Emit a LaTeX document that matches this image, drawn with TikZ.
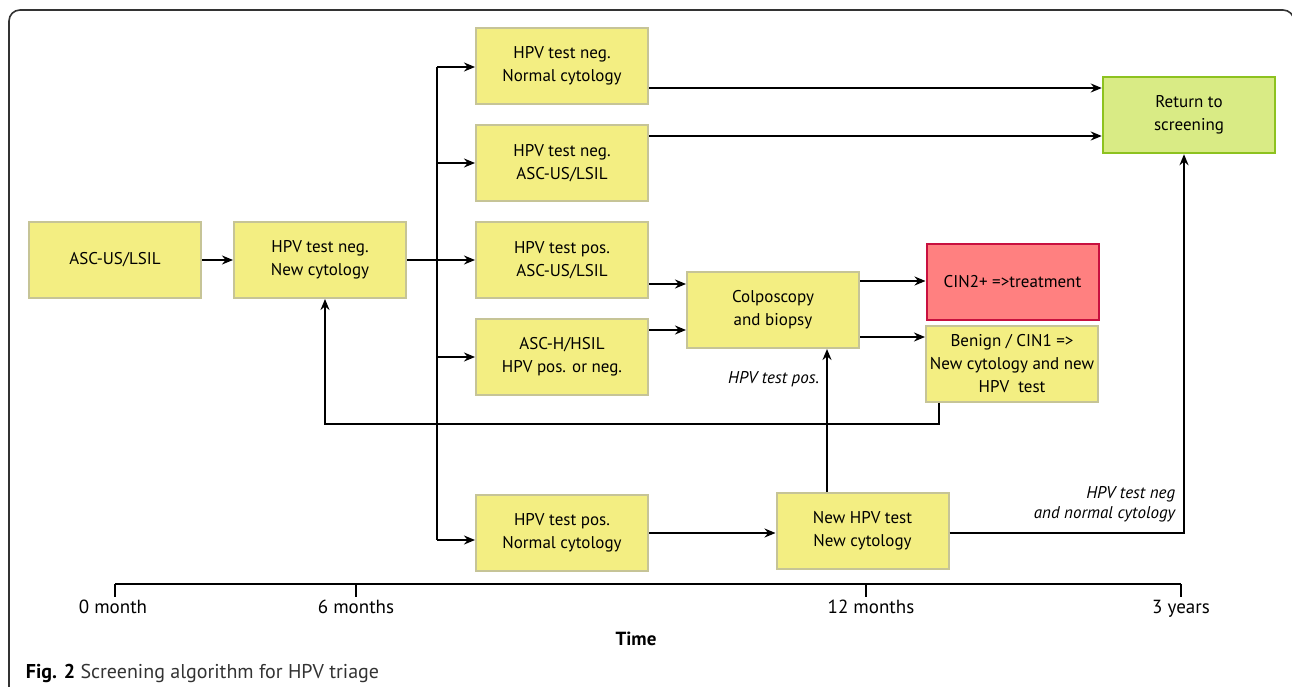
\documentclass[tikz,border=0pt]{standalone}
\usepackage{fontspec}
\setmainfont{PT Sans}
\usetikzlibrary{arrows.meta}

\definecolor{boxyellow}{HTML}{F3EE82}
\definecolor{boxedge}{HTML}{C6C497}
\definecolor{boxred}{HTML}{FF8080}
\definecolor{rededge}{HTML}{C8103F}
\definecolor{boxgreen}{HTML}{D9EB85}
\definecolor{greenedge}{HTML}{8DC21F}

\begin{document}
\begin{tikzpicture}[x=1pt,y=-1pt,line width=1.8pt,>={Stealth[length=11pt,width=9pt]}]
        \tikzstyle{box}=[draw=boxedge,fill=boxyellow,line width=2pt,minimum width=172pt,minimum height=76pt,
                         inner sep=2pt,align=center,font=\fontsize{17}{23}\selectfont]
        \tikzstyle{note}=[inner sep=0pt,align=right,font=\fontsize{17}{20}\selectfont\itshape]
        \tikzstyle{tick}=[inner sep=0pt,anchor=base,font=\fontsize{19}{22}\selectfont]
        \useasboundingbox (0,0) rectangle (1292,687);
        \draw[draw=black!80,line width=1.6pt,rounded corners=11pt] (9,720) -- (9,10) -- (1294,10) -- (1294,720);

        % boxes
        \node[box] (asc) at (115,260) {ASC-US/LSIL};
        \node[box] (neg6) at (320,260) {HPV test neg.\\New cytology};
        \node[box] (negnorm) at (562,66) {HPV test neg.\\Normal cytology};
        \node[box] (negasc) at (562,163) {HPV test neg.\\ASC-US/LSIL};
        \node[box] (posasc) at (562,260) {HPV test pos.\\ASC-US/LSIL};
        \node[box] (hsil) at (562,357) {ASC-H/HSIL\\HPV pos. or neg.};
        \node[box] (posnorm) at (562,533) {HPV test pos.\\Normal cytology};
        \node[box] (colpo) at (773,310) {Colposcopy\\and biopsy};
        \node[box,fill=boxred,draw=rededge] (cin2) at (1012.5,281.5) {CIN2+ =>treatment};
        \node[box] (benign) at (1012,363.5) {Benign / CIN1 =>\\New cytology and new\\HPV\ \ test};
        \node[box] (newtest) at (862.5,531) {New HPV test\\New cytology};
        \node[box,fill=boxgreen,draw=greenedge,line width=2.5pt] (ret) at (1189,115) {Return to\\screening};

        % connectors
        \coordinate (trunk) at (437,259);
        \draw[->] (asc) -- (neg6);
        \draw[->] (neg6) -- (posasc);
        \draw ([yshift=-1pt]trunk |- negnorm) -- ([yshift=-7pt]trunk |- posnorm);
        \draw[->] ([yshift=-1pt]trunk |- negnorm) -- ([yshift=-1pt]negnorm.west);
        \draw[->] (trunk |- negasc) -- (negasc);
        \draw[->] (trunk |- hsil) -- (hsil);
        \draw[->] ([yshift=-7pt]trunk |- posnorm) -- ([yshift=-7pt]posnorm.west);
        \draw[->] ([yshift=-22pt]negnorm.east) -- ([yshift=-22pt]negnorm.east -| ret.west);
        \draw[->] ([yshift=27pt]negasc.east) -- ([yshift=27pt]negasc.east -| ret.west);
        \draw[->] ([yshift=-24pt]posasc.east) -- ([yshift=-24pt]posasc.east -| colpo.west);
        \draw[->] ([yshift=27pt]hsil.east) -- ([yshift=27pt]hsil.east -| colpo.west);
        \draw[->] ([yshift=29pt]colpo.east) -- ([yshift=29pt]colpo.east -| cin2.west);
        \draw[->] ([yshift=-27pt]colpo.east) -- ([yshift=-27pt]colpo.east -| benign.west);
        \coordinate (back) at (325,424);
        \draw[->] ([xshift=-73pt]benign.south) |- (back) -- (back |- neg6.south);
        \draw[->] (posnorm) -- (posnorm -| newtest.west);
        \draw[->] ([xshift=-35.5pt]newtest.north) -- ([xshift=-35.5pt]newtest.north |- colpo.south)
                node[note,pos=0.79,anchor=east,xshift=-7pt] {HPV test pos.};
        \draw[->] ([yshift=-2pt]newtest.east) -| ([xshift=-5pt]ret.south);
        \node[note,anchor=south east] (negnote) at (1176,523) {HPV test neg\\and normal cytology};

        % time axis
        \coordinate (m0) at (115,584);
        \coordinate (m6) at (356,584);
        \coordinate (m12) at (866,584);
        \coordinate (m36) at (1181,584);
        \draw (m0) -- (m36);
        \foreach \m in {m0,m6,m12,m36} \draw (\m) -- ++(0,13);
        \node[tick] (l0) at (113,613) {0 month};
        \node[tick] (l6) at (356,613) {6 months};
        \node[tick] (l12) at (871,613) {12 months};
        \node[tick] (l36) at (1181,613) {3 years};
        \node[tick,font=\fontsize{19}{22}\selectfont\bfseries] (time) at (636,645) {Time};
        \node[anchor=base west,inner sep=0pt,font=\fontsize{20}{22}\selectfont,text=black!80] (cap) at (25,678)
                {\textcolor{black}{\bfseries Fig. 2} Screening algorithm for HPV triage};
    \end{tikzpicture}
\end{document}
